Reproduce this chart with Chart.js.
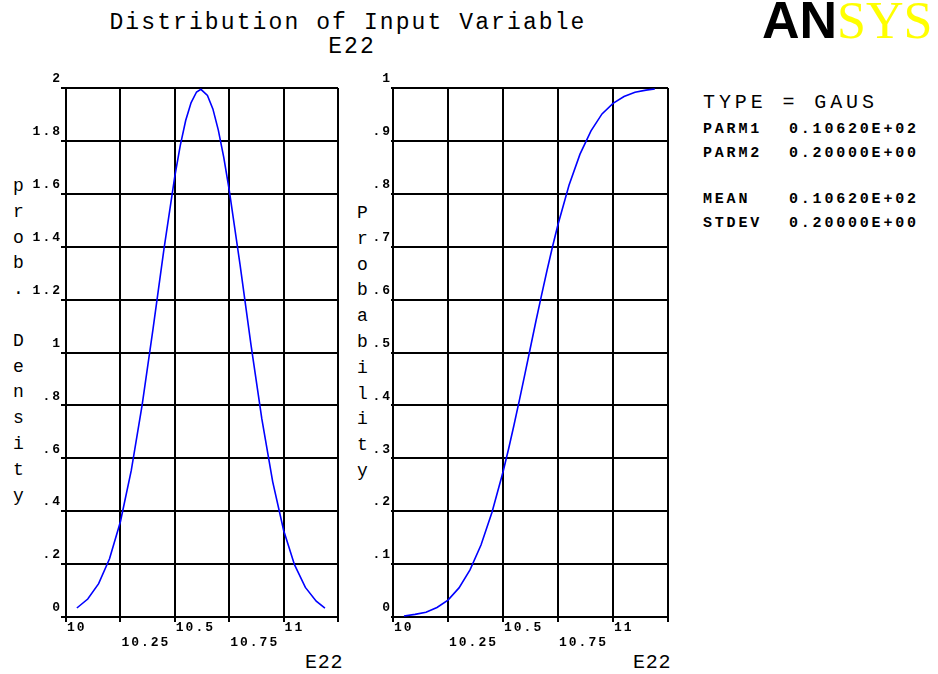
<!DOCTYPE html>
<html>
<head>
<meta charset="utf-8">
<script src="https://cdn.jsdelivr.net/npm/chart.js@4.4.1/dist/chart.umd.min.js"></script>
<style>
  body { margin: 0; background: #fff; width: 938px; height: 674px; position: relative; overflow: hidden; font-family: 'Liberation Mono', monospace; color: #000; }
  canvas { position: absolute; }
  .t { position: absolute; white-space: pre; line-height: 1; }
</style>
</head>
<body>
<div class="t" style="left:0;width:696px;text-align:center;top:12px;font-size:23px;letter-spacing:2.1px">Distribution of Input Variable</div>
<div class="t" style="left:0;width:704px;text-align:center;top:36px;font-size:23px;letter-spacing:2.1px">E22</div>

<div class="t" style="left:762px;top:-6px;font-family:'Liberation Sans';font-weight:bold;font-size:52px">AN</div>
<div class="t" style="left:837px;top:-5px;font-family:'Liberation Serif';font-size:52px;color:#ffff00">SYS</div>

<div id="densTitle" class="t" style="left:13px;top:174px;font-size:18px;line-height:25.8px"></div>
<div id="probTitle" class="t" style="left:357px;top:201px;font-size:18px;line-height:25.8px"></div>

<div class="t" style="left:305px;top:653px;font-size:20px;letter-spacing:0.7px">E22</div>
<div class="t" style="left:633px;top:653px;font-size:20px;letter-spacing:0.7px">E22</div>

<div class="t" style="left:703px;top:93px;font-size:20px;letter-spacing:3.9px">TYPE = GAUS</div>
<div id="info"></div>

<canvas id="densityChart" width="360" height="614" style="left:0;top:60px"></canvas>
<canvas id="probabilityChart" width="360" height="614" style="left:340px;top:60px"></canvas>

<script>
// sample points of E22 and the two curves
const evalPoints = [10.05, 10.10, 10.15, 10.20, 10.25, 10.30, 10.35, 10.40, 10.45, 10.50, 10.525, 10.55, 10.575,
  10.60, 10.62, 10.65, 10.675, 10.70, 10.725, 10.75, 10.80, 10.85, 10.90, 10.95, 11.00, 11.05, 11.10, 11.15, 11.19];
const densityValues = [0.034, 0.068, 0.126, 0.220, 0.360, 0.554, 0.802, 1.089, 1.390, 1.666, 1.782, 1.877, 1.945,
  1.985, 1.995, 1.972, 1.921, 1.841, 1.738, 1.615, 1.331, 1.030, 0.749, 0.511, 0.328, 0.198, 0.112, 0.060, 0.034];
const probabilityValues = [0.002, 0.005, 0.009, 0.018, 0.032, 0.055, 0.089, 0.136, 0.198, 0.274, 0.317, 0.363, 0.411,
  0.460, 0.500, 0.560, 0.608, 0.655, 0.700, 0.742, 0.816, 0.875, 0.919, 0.951, 0.971, 0.984, 0.992, 0.996, 0.998];

const xTickLabels = ['10', '10.25', '10.5', '10.75', '11', ''];
const densityTickLabels = ['0', '.2', '.4', '.6', '.8', '1', '1.2', '1.4', '1.6', '1.8', '2'];
const probabilityTickLabels = ['0', '.1', '.2', '.3', '.4', '.5', '.6', '.7', '.8', '.9', '1'];

const infoLabels = ['PARM1', 'PARM2', 'MEAN', 'STDEV'];
const infoValues = ['0.10620E+02', '0.20000E+00', '0.10620E+02', '0.20000E+00'];
const infoBaselines = [133, 157, 203, 227];

document.getElementById('densTitle').textContent = 'prob. Density'.split('').join('\n');
document.getElementById('probTitle').textContent = 'Probability'.split('').join('\n');

const info = document.getElementById('info');
infoLabels.forEach((lbl, i) => {
  const top = infoBaselines[i] - 11.5;
  info.innerHTML +=
    `<div class="t" style="left:703px;top:${top}px;font-size:15px;font-weight:bold;letter-spacing:2.8px">${lbl}</div>` +
    `<div class="t" style="left:789px;top:${top}px;font-size:15px;font-weight:bold;letter-spacing:2.8px">${infoValues[i]}</div>`;
});

// wide ANSYS-style tick lettering
const spacing = {
  id: 'spacing',
  beforeDraw(chart) { chart.ctx.letterSpacing = '2px'; }
};

const tickFont = { family: 'Liberation Mono', size: 13, weight: 'bold', lineHeight: '15px' };

function buildChart(id, values, yMax, yStep, yLabels, yTickLen, pad) {
  const ctx = document.getElementById(id).getContext('2d');
  return new Chart(ctx, {
    type: 'line',
    data: {
      datasets: [{
        data: evalPoints.map((x, i) => ({ x: x, y: values[i] })),
        borderColor: '#0000ff',
        borderWidth: 1.6,
        pointRadius: 0,
        tension: 0,
        fill: false
      }]
    },
    options: {
      responsive: false,
      animation: false,
      events: [],
      layout: { padding: pad },
      plugins: {
        legend: { display: false },
        tooltip: { enabled: false }
      },
      scales: {
        x: {
          type: 'linear',
          min: 10,
          max: 11.25,
          afterFit: s => { s.height = 40; },
          grid: { color: '#000', lineWidth: 2, tickLength: 5 },
          border: { color: '#000', width: 2 },
          ticks: {
            stepSize: 0.25,
            align: 'start',
            labelOffset: 1,
            padding: -2,
            maxRotation: 0,
            autoSkip: false,
            color: '#000',
            font: tickFont,
            callback: (v, i) => i % 2 ? ['', xTickLabels[i]] : xTickLabels[i]
          }
        },
        y: {
          min: 0,
          max: yMax,
          afterFit: s => { s.width = 50; },
          grid: { color: '#000', lineWidth: 2, tickLength: yTickLen },
          border: { color: '#000', width: 2 },
          ticks: {
            stepSize: yStep,
            labelOffset: -9,
            padding: -1,
            autoSkip: false,
            color: '#000',
            font: tickFont,
            callback: (v, i) => yLabels[i]
          }
        }
      }
    },
    plugins: [spacing]
  });
}

buildChart('densityChart', densityValues, 2, 0.2, densityTickLabels, 5,
  { left: 16, top: 28, right: 22, bottom: 17 });
buildChart('probabilityChart', probabilityValues, 1, 0.1, probabilityTickLabels, 2,
  { left: 3, top: 28, right: 32, bottom: 17 });
</script>
</body>
</html>
